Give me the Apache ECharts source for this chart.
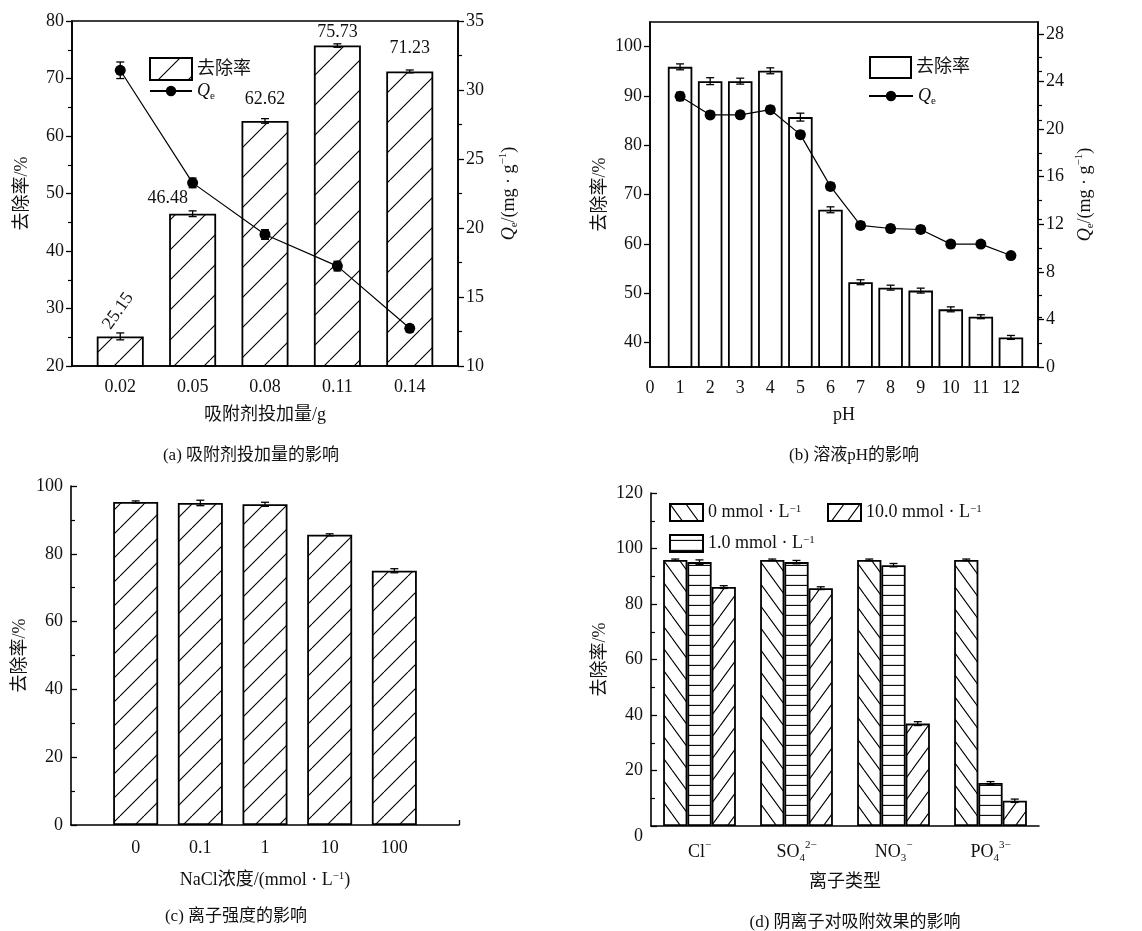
<!DOCTYPE html>
<html><head><meta charset="utf-8">
<script src="https://cdn.jsdelivr.net/npm/echarts@6.0.0/dist/echarts.min.js"></script>
<style>html,body{margin:0;padding:0;background:#fff}#c{width:1142px;height:931px}</style>
</head><body><div id="c"></div>
<script>
// ---------- (a) adsorbent dose ----------
const doseValues = [0.02, 0.05, 0.08, 0.11, 0.14];
const doseLabels = ['0.02', '0.05', '0.08', '0.11', '0.14'];
const doseRemoval = [25.15, 46.48, 62.62, 75.73, 71.23];
const doseRemovalErr = [0.6, 0.5, 0.4, 0.3, 0.25];
const doseQe = [31.43, 23.27, 19.53, 17.24, 12.73];
const doseQeErr = [0.6, 0.35, 0.35, 0.35, 0.25];
// ---------- (b) pH ----------
const pHValues = [1, 2, 3, 4, 5, 6, 7, 8, 9, 10, 11, 12];
const pHTickLabels = [0, 1, 2, 3, 4, 5, 6, 7, 8, 9, 10, 11, 12];
const pHRemoval = [95.9, 93.0, 93.0, 95.1, 85.7, 66.9, 52.2, 51.1, 50.5, 46.7, 45.2, 41.0];
const pHRemovalErr = [0.6, 0.7, 0.6, 0.6, 0.8, 0.6, 0.5, 0.5, 0.5, 0.5, 0.4, 0.4];
const pHQe = [22.75, 21.19, 21.2, 21.63, 19.53, 15.18, 11.9, 11.64, 11.56, 10.33, 10.33, 9.37];
const pHQeErr = [0.35, 0.3, 0.3, 0.3, 0.3, 0.3, 0.3, 0.3, 0.3, 0.3, 0.25, 0.25];
// ---------- (c) ionic strength ----------
const naclLabels = ['0', '0.1', '1', '10', '100'];
const naclRemoval = [95.3, 95.0, 94.6, 85.6, 75.0];
const naclErr = [0.3, 0.8, 0.6, 0.3, 0.6];
// ---------- (d) anions ----------
const anionBase = ['Cl', 'SO', 'NO', 'PO'];
const anionSub = ['', '4', '3', '4'];
const anionCharge = ['\u2212', '2\u2212', '\u2212', '3\u2212'];
const anionConc = ['0', '1.0', '10.0'];
const anion0 = [95.9, 95.9, 95.9, 95.9];
const anion1 = [95.1, 95.1, 94.0, 15.5];
const anion10 = [86.1, 85.7, 36.9, 9.1];
const anion0Err = [0.3, 0.3, 0.3, 0.3];
const anion1Err = [0.8, 0.6, 0.6, 0.5];
const anion10Err = [0.5, 0.5, 0.7, 0.6];

const FONT = "'Liberation Serif', 'Times New Roman', 'Noto Sans CJK SC', serif";
const INK = '#111';

function hatch(kind, w, h, lw) {
  const c = document.createElement('canvas');
  c.width = w; c.height = h;
  const g = c.getContext('2d');
  g.fillStyle = '#fff'; g.fillRect(0, 0, w, h);
  g.strokeStyle = '#000'; g.lineWidth = lw;
  g.beginPath();
  if (kind === '/') {
    for (const dx of [-w, 0, w]) { g.moveTo(dx, h); g.lineTo(dx + w, 0); }
  } else if (kind === '\\') {
    for (const dx of [-w, 0, w]) { g.moveTo(dx, 0); g.lineTo(dx + w, h); }
  } else if (kind === '-') {
    g.moveTo(0, h / 2); g.lineTo(w, h / 2);
  }
  g.stroke();
  return { image: c, repeat: 'repeat' };
}
const patA = hatch('/', 30, 30, 1.1);
const patC = hatch('/', 24, 24, 1.1);
const patD0 = hatch('\\', 16, 22, 1.1);
const patD1 = hatch('-', 8, 10.8, 1.1);
const patD10 = hatch('/', 16, 22, 1.1);

function errRender(offsetFn) {
  return function (params, api) {
    const x = api.value(0), y = api.value(1), e = api.value(2);
    const off = offsetFn ? offsetFn(api, api.value(3)) : 0;
    const p1 = api.coord([x, y + e]), p2 = api.coord([x, y - e]);
    const cx = p1[0] + off, hw = 4;
    const st = { stroke: '#000', lineWidth: 1.3 };
    return { type: 'group', children: [
      { type: 'line', shape: { x1: cx, y1: p1[1], x2: cx, y2: p2[1] }, style: st },
      { type: 'line', shape: { x1: cx - hw, y1: p1[1], x2: cx + hw, y2: p1[1] }, style: st },
      { type: 'line', shape: { x1: cx - hw, y1: p2[1], x2: cx + hw, y2: p2[1] }, style: st }
    ] };
  };
}

const richSub = {
  q: { fontStyle: 'italic', fontSize: 18, fontFamily: FONT, color: INK, lineHeight: 22 },
  s: { fontSize: 11, fontFamily: FONT, color: INK, verticalAlign: 'bottom', lineHeight: 12 },
  p: { fontSize: 11, fontFamily: FONT, color: INK, verticalAlign: 'top', lineHeight: 12 },
  n: { fontSize: 18, fontFamily: FONT, color: INK, lineHeight: 22 }
};

const axisLine = { show: true, lineStyle: { color: '#000', width: 1.6 } };
const labelStyle = { fontFamily: FONT, fontSize: 18, color: INK };
const nameStyle = { fontFamily: FONT, fontSize: 18, color: INK, rich: richSub };

// (a) label tweaks (style only)
const aLabelTweaks = [
  { rotate: 55, align: 'left', verticalAlign: 'middle', offset: [-3, -14.5], distance: 3 },
  { offset: [-25, 2] },
  { offset: [0, -5] },
  { offset: [0, 4] },
  { offset: [0, -6] }
];

const option = {
  animation: false,
  backgroundColor: '#fff',
  textStyle: { fontFamily: FONT, color: INK },
  title: [
    { text: '(a) 吸附剂投加量的影响', left: 246, top: 442, textAlign: 'center', textStyle: { fontFamily: FONT, fontSize: 17, fontWeight: 'normal', color: INK } },
    { text: '(b) 溶液pH的影响', left: 849, top: 442, textAlign: 'center', textStyle: { fontFamily: FONT, fontSize: 17, fontWeight: 'normal', color: INK } },
    { text: '(c) 离子强度的影响', left: 231, top: 903, textAlign: 'center', textStyle: { fontFamily: FONT, fontSize: 17, fontWeight: 'normal', color: INK } },
    { text: '(d) 阴离子对吸附效果的影响', left: 850, top: 909, textAlign: 'center', textStyle: { fontFamily: FONT, fontSize: 17, fontWeight: 'normal', color: INK } }
  ],
  grid: [
    { left: 72, top: 21, width: 386, height: 345, show: true, borderColor: '#000', borderWidth: 1.6, backgroundColor: 'transparent' },
    { left: 650, top: 22, width: 388, height: 345, show: true, borderColor: '#000', borderWidth: 1.6, backgroundColor: 'transparent' },
    { left: 71, top: 486, width: 388, height: 339 },
    { left: 651, top: 493, width: 388, height: 333 }
  ],
  legend: [
    { left: 144, top: 52, orient: 'vertical', itemWidth: 42, itemHeight: 22, data: [{ name: 'removalA', icon: 'rect' }],
      formatter: () => '去除率', textStyle: { fontFamily: FONT, fontSize: 18, color: INK } },
    { left: 144, top: 77, orient: 'vertical', itemWidth: 42, itemHeight: 13, data: ['qeA'],
      formatter: () => '{q|Q}{s|e}', textStyle: { fontFamily: FONT, fontSize: 18, color: INK, rich: richSub } },
    { left: 864, top: 51, orient: 'vertical', itemWidth: 41, itemHeight: 21, data: [{ name: 'removalB', icon: 'rect' }],
      formatter: () => '去除率', textStyle: { fontFamily: FONT, fontSize: 18, color: INK } },
    { left: 863, top: 82, orient: 'vertical', itemWidth: 44, itemHeight: 13, data: ['qeB'],
      formatter: () => '{q|Q}{s|e}', textStyle: { fontFamily: FONT, fontSize: 18, color: INK, rich: richSub } },
    { left: 664, top: 498, orient: 'vertical', itemWidth: 33, itemHeight: 17, itemGap: 12,
      data: [{ name: 'd0', icon: 'rect' }, { name: 'd1', icon: 'rect' }],
      formatter: (n) => anionConc[n === 'd0' ? 0 : 1] + ' mmol · L{p|\u22121}',
      textStyle: { fontFamily: FONT, fontSize: 18, color: INK, rich: richSub } },
    { left: 822, top: 498, orient: 'vertical', itemWidth: 33, itemHeight: 17,
      data: [{ name: 'd10', icon: 'rect' }],
      formatter: () => anionConc[2] + ' mmol · L{p|\u22121}',
      textStyle: { fontFamily: FONT, fontSize: 18, color: INK, rich: richSub } }
  ],
  xAxis: [
    { gridIndex: 0, type: 'value', min: 0, max: 0.16, axisLine, splitLine: { show: false },
      axisTick: { show: true, inside: true, length: 5, customValues: doseValues, lineStyle: { color: '#000', width: 1.3 } },
      axisLabel: { ...labelStyle, margin: 12, customValues: doseValues,
        formatter: (v) => doseLabels[doseValues.findIndex(d => Math.abs(d - v) < 1e-6)] },
      name: '吸附剂投加量/g', nameLocation: 'middle', nameGap: 40, nameTextStyle: nameStyle },
    { gridIndex: 1, type: 'value', min: 0, max: 12.9, axisLine, splitLine: { show: false },
      axisTick: { show: false },
      axisLabel: { ...labelStyle, margin: 12, customValues: pHTickLabels },
      name: 'pH', nameLocation: 'middle', nameGap: 39, nameTextStyle: nameStyle },
    { gridIndex: 2, type: 'value', min: 0, max: 6, axisLine, splitLine: { show: false },
      axisTick: { show: true, inside: true, length: 5, customValues: [1, 2, 3, 4, 5, 6], lineStyle: { color: '#000', width: 1.3 } },
      axisLabel: { ...labelStyle, margin: 14, customValues: [1, 2, 3, 4, 5], formatter: (v) => naclLabels[Math.round(v) - 1] },
      name: 'NaCl浓度/(mmol · L{p|\u22121})', nameLocation: 'middle', nameGap: 46, nameTextStyle: nameStyle },
    { gridIndex: 3, type: 'category', data: anionBase, axisLine, splitLine: { show: false },
      axisTick: { show: false },
      axisLabel: { ...labelStyle, margin: 14, interval: 0, rich: { sb: { fontSize: 11, verticalAlign: 'bottom', lineHeight: 12, fontFamily: FONT, color: INK }, sp: { fontSize: 11, verticalAlign: 'top', lineHeight: 12, fontFamily: FONT, color: INK }, m: { fontSize: 18, lineHeight: 24, fontFamily: FONT, color: INK } },
        formatter: (v, i) => '{m|' + anionBase[i] + '}' + (anionSub[i] ? '{sb|' + anionSub[i] + '}' : '') + '{sp|' + anionCharge[i] + '}' },
      name: '离子类型', nameLocation: 'middle', nameGap: 47, nameTextStyle: nameStyle }
  ],
  yAxis: [
    // 0: (a) left
    { gridIndex: 0, type: 'value', min: 20, max: 80, interval: 10, axisLine, splitLine: { show: false },
      axisTick: { show: true, length: 6, lineStyle: { color: '#000', width: 1.3 } },
      minorTick: { show: true, splitNumber: 2, length: 4, lineStyle: { color: '#000', width: 1.2 } },
      axisLabel: { ...labelStyle, margin: 8 },
      name: '去除率/%', nameLocation: 'middle', nameGap: 41, nameTextStyle: nameStyle },
    // 1: (a) right
    { gridIndex: 0, type: 'value', position: 'right', min: 10, max: 35, interval: 5, axisLine, splitLine: { show: false },
      axisTick: { show: true, length: 6, lineStyle: { color: '#000', width: 1.3 } },
      minorTick: { show: true, splitNumber: 2, length: 4, lineStyle: { color: '#000', width: 1.2 } },
      axisLabel: { ...labelStyle, margin: 8 },
      name: '{q|Q}{s|e}{n|/(mg · g}{p|\u22121}{n|)}', nameLocation: 'middle', nameGap: 40, nameRotate: 90, nameTextStyle: nameStyle },
    // 2: (b) left
    { gridIndex: 1, type: 'value', min: 35, max: 105, axisLine, splitLine: { show: false },
      axisTick: { show: true, length: 6, customValues: [40, 50, 60, 70, 80, 90, 100], lineStyle: { color: '#000', width: 1.3 } },
      axisLabel: { ...labelStyle, margin: 8, customValues: [40, 50, 60, 70, 80, 90, 100] },
      name: '去除率/%', nameLocation: 'middle', nameGap: 41, nameTextStyle: nameStyle },
    // 3: (b) right
    { gridIndex: 1, type: 'value', position: 'right', min: 0, max: 29, axisLine, splitLine: { show: false },
      axisTick: { show: true, length: 6, customValues: [0, 4, 8, 12, 16, 20, 24, 28], lineStyle: { color: '#000', width: 1.3 } },
      axisLabel: { ...labelStyle, margin: 8, customValues: [0, 4, 8, 12, 16, 20, 24, 28] },
      name: '{q|Q}{s|e}{n|/(mg · g}{p|\u22121}{n|)}', nameLocation: 'middle', nameGap: 36, nameRotate: 90, nameTextStyle: nameStyle },
    // 4: (b) left minor ticks
    { gridIndex: 1, type: 'value', min: 35, max: 105, axisLine: { show: false }, splitLine: { show: false },
      axisTick: { show: true, length: 4, customValues: [45, 55, 65, 75, 85, 95], lineStyle: { color: '#000', width: 1.2 } },
      axisLabel: { show: false } },
    // 5: (b) right minor ticks
    { gridIndex: 1, type: 'value', position: 'right', min: 0, max: 29, axisLine: { show: false }, splitLine: { show: false },
      axisTick: { show: true, length: 4, customValues: [2, 6, 10, 14, 18, 22, 26], lineStyle: { color: '#000', width: 1.2 } },
      axisLabel: { show: false } },
    // 6: (c)
    { gridIndex: 2, type: 'value', min: 0, max: 100, interval: 20, axisLine, splitLine: { show: false },
      axisTick: { show: true, inside: true, length: 6, lineStyle: { color: '#000', width: 1.3 } },
      minorTick: { show: true, splitNumber: 2, length: 4, lineStyle: { color: '#000', width: 1.2 } },
      axisLabel: { ...labelStyle, margin: 8 },
      name: '去除率/%', nameLocation: 'middle', nameGap: 42, nameTextStyle: nameStyle },
    // 7: (d)
    { gridIndex: 3, type: 'value', min: 0, max: 120, interval: 20, axisLine, splitLine: { show: false },
      axisTick: { show: true, inside: true, length: 6, lineStyle: { color: '#000', width: 1.3 } },
      minorTick: { show: true, splitNumber: 2, length: 4, lineStyle: { color: '#000', width: 1.2 } },
      axisLabel: { ...labelStyle, margin: 8, rich: { z: { padding: [20, 0, 0, 0], fontSize: 18, fontFamily: FONT, color: INK } },
        formatter: (v) => v === 0 ? '{z|0}' : String(v) },
      name: '去除率/%', nameLocation: 'middle', nameGap: 42, nameTextStyle: nameStyle }
  ],
  series: [
    // (a)
    { name: 'removalA', type: 'bar', xAxisIndex: 0, yAxisIndex: 0, barWidth: 47,
      itemStyle: { color: patA, borderColor: '#000', borderWidth: 1.8 },
      label: { show: true, position: 'top', distance: 8, fontFamily: FONT, fontSize: 18, color: INK },
      data: doseValues.map((x, i) => ({ value: [x, doseRemoval[i]], label: { ...aLabelTweaks[i], formatter: doseRemoval[i].toFixed(2) } })) },
    { name: 'errA', type: 'custom', xAxisIndex: 0, yAxisIndex: 0, z: 5, renderItem: errRender(),
      encode: { x: 0, y: 1 }, data: doseValues.map((x, i) => [x, doseRemoval[i], doseRemovalErr[i]]) },
    { name: 'qeA', type: 'line', xAxisIndex: 0, yAxisIndex: 1, symbol: 'circle', symbolSize: 11, z: 6,
      itemStyle: { color: '#000' }, lineStyle: { color: '#000', width: 1.2 },
      data: doseValues.map((x, i) => [x, doseQe[i]]) },
    { name: 'errQeA', type: 'custom', xAxisIndex: 0, yAxisIndex: 1, z: 5, renderItem: errRender(),
      encode: { x: 0, y: 1 }, data: doseValues.map((x, i) => [x, doseQe[i], doseQeErr[i]]) },
    // (b)
    { name: 'removalB', type: 'bar', xAxisIndex: 1, yAxisIndex: 2, barWidth: 24.5,
      itemStyle: { color: '#fff', borderColor: '#000', borderWidth: 1.8 },
      data: pHValues.map((x, i) => [x, pHRemoval[i]]) },
    { name: 'errB', type: 'custom', xAxisIndex: 1, yAxisIndex: 2, z: 5, renderItem: errRender(),
      encode: { x: 0, y: 1 }, data: pHValues.map((x, i) => [x, pHRemoval[i], pHRemovalErr[i]]) },
    { name: 'qeB', type: 'line', xAxisIndex: 1, yAxisIndex: 3, symbol: 'circle', symbolSize: 11, z: 6,
      itemStyle: { color: '#000' }, lineStyle: { color: '#000', width: 1.2 },
      data: pHValues.map((x, i) => [x, pHQe[i]]) },
    { name: 'errQeB', type: 'custom', xAxisIndex: 1, yAxisIndex: 3, z: 5, renderItem: errRender(),
      encode: { x: 0, y: 1 }, data: pHValues.map((x, i) => [x, pHQe[i], pHQeErr[i]]) },
    // (c)
    { name: 'removalC', type: 'bar', xAxisIndex: 2, yAxisIndex: 6, barWidth: 45,
      itemStyle: { color: patC, borderColor: '#000', borderWidth: 1.8 },
      data: naclLabels.map((l, i) => [i + 1, naclRemoval[i]]) },
    { name: 'errC', type: 'custom', xAxisIndex: 2, yAxisIndex: 6, z: 5, renderItem: errRender(),
      encode: { x: 0, y: 1 }, data: naclLabels.map((l, i) => [i + 1, naclRemoval[i], naclErr[i]]) },
    // (d)
    { name: 'd0', type: 'bar', xAxisIndex: 3, yAxisIndex: 7, barGap: '0%', barCategoryGap: '25%',
      itemStyle: { color: patD0, borderColor: '#000', borderWidth: 1.8 }, data: anion0 },
    { name: 'd1', type: 'bar', xAxisIndex: 3, yAxisIndex: 7, barGap: '0%', barCategoryGap: '25%',
      itemStyle: { color: patD1, borderColor: '#000', borderWidth: 1.8 }, data: anion1 },
    { name: 'd10', type: 'bar', xAxisIndex: 3, yAxisIndex: 7, barGap: '0%', barCategoryGap: '25%',
      itemStyle: { color: patD10, borderColor: '#000', borderWidth: 1.8 }, data: anion10 },
    { name: 'errD', type: 'custom', xAxisIndex: 3, yAxisIndex: 7, z: 5,
      renderItem: errRender((api, s) => (s - 1) * api.size([1, 0])[0] * 0.75 / 3),
      encode: { x: 0, y: 1 },
      data: [].concat(
        anion0.map((v, i) => [i, v, anion0Err[i], 0]),
        anion1.map((v, i) => [i, v, anion1Err[i], 1]),
        anion10.map((v, i) => [i, v, anion10Err[i], 2])) }
  ]
};
const chart = echarts.init(document.getElementById('c'), null, { renderer: 'canvas' });
chart.setOption(option);
</script></body></html>
